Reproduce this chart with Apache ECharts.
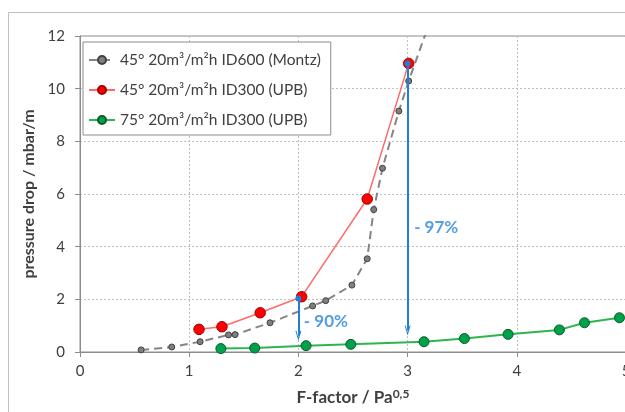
<!DOCTYPE html>
<html>
<head>
<meta charset="utf-8">
<script src="https://cdn.jsdelivr.net/npm/echarts@6/dist/echarts.min.js"></script>
<style>
html,body{margin:0;padding:0;background:#fff;overflow:hidden;}
#c{width:625px;height:412px;}
</style>
</head>
<body>
<div id="c"></div>
<script>
// ---- data ----
var xTicks = [0, 1, 2, 3, 4, 5];
var yTicks = [0, 2, 4, 6, 8, 10, 12];
var seriesNames = ['45° 20m³/m²h ID600 (Montz)', '45° 20m³/m²h ID300 (UPB)', '75° 20m³/m²h ID300 (UPB)'];
var montzX = [0.56, 0.84, 1.10, 1.36, 1.42, 1.74, 2.13, 2.25, 2.49, 2.63, 2.69, 2.77, 2.92, 3.01, 3.20];
var montzY = [0.08, 0.19, 0.39, 0.65, 0.66, 1.11, 1.75, 1.95, 2.54, 3.54, 5.41, 6.98, 9.15, 10.29, 12.50];
var upb45X = [1.09, 1.30, 1.65, 2.03, 2.63, 3.01];
var upb45Y = [0.86, 0.96, 1.49, 2.10, 5.81, 10.96];
var upb75X = [1.29, 1.60, 2.07, 2.48, 3.15, 3.52, 3.92, 4.39, 4.62, 4.94];
var upb75Y = [0.13, 0.15, 0.24, 0.29, 0.39, 0.51, 0.67, 0.84, 1.11, 1.30];
var arrowFrom = [[2.0, 2.03], [3.0, 10.96]];
var arrowTo = [[2.0, 0.62], [3.0, 0.82]];
var annotTexts = ['- 90%', '- 97%'];
var annotPos = [[2.05, 1.15], [3.06, 4.72]];

function pairs(xs, ys) { return xs.map(function (x, i) { return [x, ys[i]]; }); }

var FONT = 'Lato, "Open Sans", sans-serif';
var chevron = 'path://M0,10 L5,0 L10,10 L8.4,10 L5,3.2 L1.6,10 Z';

var chart = echarts.init(document.getElementById('c'), null, {renderer: 'canvas'});
chart.setOption({
  animation: false,
  textStyle: {fontFamily: FONT},
  graphic: [{
    type: 'rect', silent: true, z: -10,
    shape: {x: 8.5, y: 12.5, width: 700, height: 500},
    style: {fill: '#fff', stroke: '#bfbfbf', lineWidth: 1}
  }],
  grid: {left: 80, top: 36, right: -1, bottom: 60, show: true, borderColor: '#8c8c8c', borderWidth: 1,
         containLabel: false, outerBoundsMode: 'none'},
  legend: {
    data: seriesNames,
    orient: 'vertical',
    left: 83, top: 42,
    backgroundColor: '#fff',
    borderColor: '#8c8c8c', borderWidth: 1,
    padding: [9, 10, 6, 5],
    itemWidth: 26, itemHeight: 10, itemGap: 12,
    textStyle: {fontFamily: FONT, fontSize: 15.5, color: '#404040', lineHeight: 18}
  },
  xAxis: {
    type: 'value', min: xTicks[0], max: xTicks[xTicks.length - 1], interval: 1,
    name: '{a|F-factor / Pa}{s|0,5}',
    nameLocation: 'middle', nameGap: 36,
    nameTextStyle: {
      rich: {
        a: {fontFamily: FONT, fontSize: 17, fontWeight: 'bold', color: '#404040', lineHeight: 20},
        s: {fontFamily: FONT, fontSize: 12, fontWeight: 'bold', color: '#404040', verticalAlign: 'top', lineHeight: 20, padding: [0, 0, 6, 0]}
      }
    },
    axisLine: {show: true, onZero: false, lineStyle: {color: '#8c8c8c', width: 1}},
    axisTick: {show: true, inside: false, length: 5, lineStyle: {color: '#8c8c8c'}},
    axisLabel: {fontFamily: FONT, fontSize: 15, color: '#404040', margin: 12},
    splitLine: {show: true, lineStyle: {color: '#bfbfbf', type: [2, 2], width: 1}}
  },
  yAxis: {
    type: 'value', min: yTicks[0], max: yTicks[yTicks.length - 1], interval: 2,
    name: 'pressure drop / mbar/m',
    nameLocation: 'middle', nameGap: 39, nameRotate: 90,
    nameTextStyle: {fontFamily: FONT, fontSize: 16, fontWeight: 'bold', color: '#404040'},
    axisLine: {show: true, lineStyle: {color: '#8c8c8c', width: 1}},
    axisTick: {show: true, inside: false, length: 5, lineStyle: {color: '#8c8c8c'}},
    axisLabel: {fontFamily: FONT, fontSize: 15, color: '#404040', margin: 15},
    splitLine: {show: true, lineStyle: {color: '#bfbfbf', type: [2, 2], width: 1}}
  },
  series: [
    {
      name: seriesNames[0], type: 'line', clip: true, z: 3,
      data: pairs(montzX, montzY),
      symbol: 'circle', symbolSize: 6,
      lineStyle: {color: '#858585', width: 2, type: [8, 5]},
      itemStyle: {color: '#7f7f7f', borderColor: '#404040', borderWidth: 1}
    },
    {
      name: seriesNames[1], type: 'line', clip: true, z: 4,
      data: pairs(upb45X, upb45Y),
      symbol: 'circle', symbolSize: 10.5,
      lineStyle: {color: '#ff6b6b', width: 1.5},
      itemStyle: {color: '#ff0000', borderColor: '#a00000', borderWidth: 1}
    },
    {
      name: seriesNames[2], type: 'line', clip: true, z: 4,
      data: pairs(upb75X, upb75Y),
      symbol: 'circle', symbolSize: 10,
      lineStyle: {color: '#2fb54f', width: 2},
      itemStyle: {color: '#00a14b', borderColor: '#0b5a2a', borderWidth: 1}
    },
    {
      name: 'arrows', type: 'line', data: [], z: 6,
      markLine: {
        silent: true, animation: false,
        symbol: ['circle', chevron], symbolSize: [6, 10],
        label: {show: false},
        lineStyle: {color: '#1f7ed6', width: 2, type: 'solid'},
        data: arrowFrom.map(function (f, i) { return [{coord: f}, {coord: arrowTo[i]}]; })
      }
    },
    {
      name: 'annot', type: 'scatter', z: 7, symbolSize: 0, silent: true,
      data: annotPos.map(function (p, i) { return {value: p, name: annotTexts[i]}; }),
      label: {
        show: true, position: 'right', distance: 0,
        formatter: function (p) { return p.name; },
        fontFamily: FONT, fontSize: 17, fontWeight: 'bold', color: '#2a86d8'
      }
    }
  ]
});
</script>
</body>
</html>
